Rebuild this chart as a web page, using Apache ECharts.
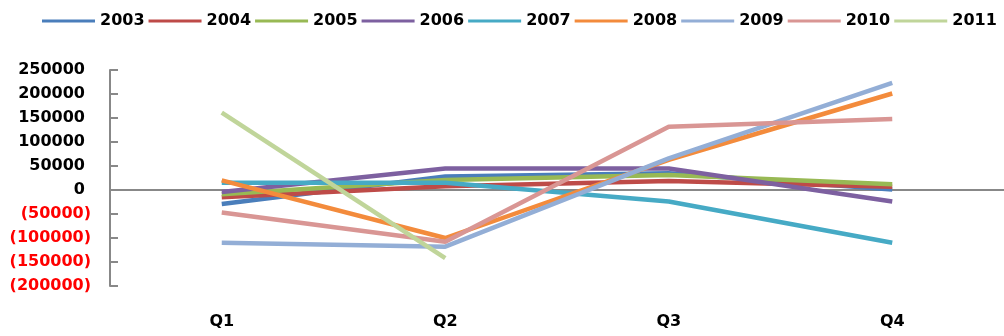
<!DOCTYPE html>
<html>
<head>
<meta charset="utf-8">
<script src="https://cdn.jsdelivr.net/npm/echarts@6/dist/echarts.min.js"></script>
<style>
  html, body { margin: 0; padding: 0; background: #fff; }
  #chart { width: 1004px; height: 336px; }
</style>
</head>
<body>
<div id="chart"></div>
<script>
// Quarterly figures per year
const quarters = ['Q1', 'Q2', 'Q3', 'Q4'];
const years = ['2003', '2004', '2005', '2006', '2007', '2008', '2009', '2010', '2011'];
const y2003 = [-29000, 28000, 35000, 1000];
const y2004 = [-15000, 8000, 19000, 7000];
const y2005 = [-9000, 21000, 31000, 12000];
const y2006 = [-4000, 45000, 45000, -24000];
const y2007 = [15000, 15000, -24000, -110000];
const y2008 = [20000, -100000, 63000, 201000];
const y2009 = [-110000, -118000, 66000, 223000];
const y2010 = [-47000, -108000, 132000, 148000];
const y2011 = [161000, -142000, null, null];
const yearValues = [y2003, y2004, y2005, y2006, y2007, y2008, y2009, y2010, y2011];
const colors = ['#4A7EBB', '#BE4B48', '#98B954', '#7D60A0', '#46AAC5', '#F38B3C', '#93AED6', '#D99694', '#C0D59A'];

const FONT = 'DejaVu Sans';

const chart = echarts.init(document.getElementById('chart'), null, { renderer: 'canvas' });

const series = years.map((name, i) => ({
  name: name,
  type: 'line',
  data: yearValues[i],
  xAxisIndex: 0,
  symbol: 'none',
  connectNulls: false,
  lineStyle: { color: colors[i], width: 4.5 },
  itemStyle: { color: colors[i] },
  animation: false
}));

chart.setOption({
  animation: false,
  color: colors,
  grid: { left: 110, top: 70, width: 915, bottom: 50, containLabel: false },
  legend: {
    left: 42,
    top: 13,
    width: 990,
    padding: 0,
    icon: 'rect',
    itemWidth: 53,
    itemHeight: 3,
    itemGap: 4,
    textStyle: { fontFamily: FONT, fontWeight: 'bold', fontSize: 16, color: '#000' },
    data: years
  },
  xAxis: [
    {
      type: 'category',
      data: quarters,
      position: 'bottom',
      axisLine: { show: false, onZero: false },
      axisTick: { show: false },
      axisLabel: { margin: 28, fontFamily: FONT, fontWeight: 'bold', fontSize: 16, color: '#000' },
      splitLine: { show: false }
    },
    {
      type: 'category',
      data: quarters,
      position: 'bottom',
      axisLine: { show: true, onZero: true, lineStyle: { color: '#888', width: 2 } },
      axisTick: { show: false },
      axisLabel: { show: false },
      splitLine: { show: false }
    }
  ],
  yAxis: {
    type: 'value',
    min: -200000,
    max: 250000,
    interval: 50000,
    axisLine: { show: true, lineStyle: { color: '#888', width: 2 } },
    axisTick: { show: true, inside: true, length: 8, lineStyle: { color: '#888', width: 2 } },
    splitLine: { show: false },
    axisLabel: {
      margin: 19,
      formatter: function (v) {
        if (v < 0) return '{n|(' + Math.abs(v) + ')}';
        return '{p|' + v + '}';
      },
      rich: {
        p: { fontFamily: FONT, fontWeight: 'bold', fontSize: 16, color: '#000', padding: [0, 6, 0, 0] },
        n: { fontFamily: FONT, fontWeight: 'bold', fontSize: 16, color: '#FF0000' }
      }
    }
  },
  series: series
});
</script>
</body>
</html>
